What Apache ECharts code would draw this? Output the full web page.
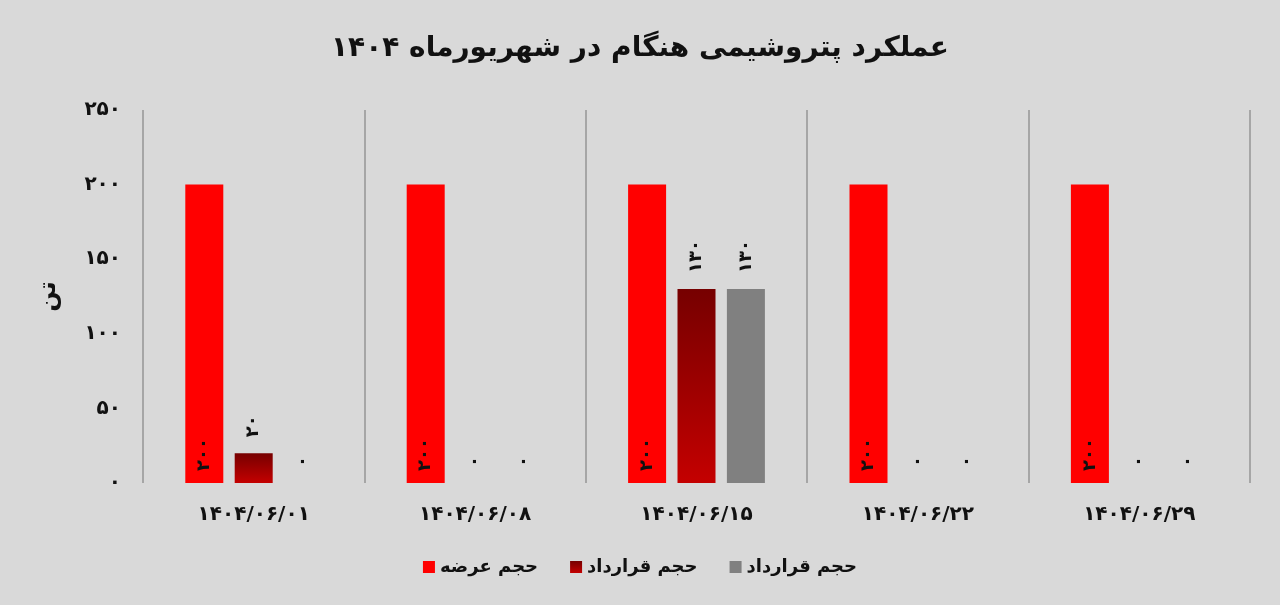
<!DOCTYPE html>
<html><head><meta charset="utf-8">
<script src="https://cdn.jsdelivr.net/npm/echarts@6/dist/echarts.min.js"></script>
<style>html,body{margin:0;padding:0;background:#d9d9d9;}#c{width:1280px;height:605px;}</style>
</head><body><div id="c"></div>
<script>
const categories = ['۱۴۰۴/۰۶/۰۱','۱۴۰۴/۰۶/۰۸','۱۴۰۴/۰۶/۱۵','۱۴۰۴/۰۶/۲۲','۱۴۰۴/۰۶/۲۹'];
const offerVolume = [200, 200, 200, 200, 200];
const contractVolume = [20, 0, 130, 0, 0];
const contractVolume2 = [0, 0, 130, 0, 0];
// the two contract series share the same visible name; a zero-width space keeps their legend entries apart
const seriesNames = ['حجم عرضه', 'حجم قرارداد', 'حجم قرارداد\u200B'];
const titleText = 'عملکرد پتروشیمی هنگام در شهریورماه ۱۴۰۴';
const yName = 'تن';

const fa = s => String(s).replace(/\d/g, d => '۰۱۲۳۴۵۶۷۸۹'[d]);
const FONT = 'DejaVu Sans';
const chart = echarts.init(document.getElementById('c'));
const topLabel = {
  show: true, position: 'top', rotate: 90, align: 'left', verticalAlign: 'middle',
  distance: 16, color: '#111', fontFamily: FONT, fontWeight: 'bold', fontSize: 18,
  formatter: p => fa(p.value)
};
chart.setOption({
  backgroundColor: '#d9d9d9',
  title: { text: titleText, left: 'center', top: 30,
    textStyle: { fontFamily: FONT, fontWeight: 'bold', fontSize: 28, color: '#111' } },
  legend: { bottom: 24, left: 'center', itemWidth: 12, itemHeight: 12, itemGap: 32,
    icon: 'rect',
    textStyle: { fontFamily: FONT, fontWeight: 'bold', fontSize: 18, color: '#111' } },
  grid: { left: 143, right: 30, top: 110, bottom: 122 },
  xAxis: {
    type: 'category', data: categories,
    axisLine: { show: false }, axisTick: { show: false },
    splitLine: { show: true, lineStyle: { color: '#a6a6a6', width: 2 } },
    axisLabel: { fontFamily: FONT, fontWeight: 'bold', fontSize: 20, color: '#111', margin: 22 }
  },
  yAxis: {
    type: 'value', min: 0, max: 250, interval: 50,
    name: yName, nameLocation: 'middle', nameRotate: 90, nameGap: 82,
    nameTextStyle: { fontFamily: FONT, fontWeight: 'bold', fontSize: 24, color: '#111' },
    axisLine: { show: false }, axisTick: { show: false }, splitLine: { show: false },
    axisLabel: { fontFamily: FONT, fontWeight: 'bold', fontSize: 20, color: '#111', margin: 22,
      formatter: v => fa(v) }
  },
  series: [
    { name: seriesNames[0], type: 'bar', data: offerVolume, barWidth: 38, barGap: '30%',
      itemStyle: { color: '#ff0000' },
      label: { show: true, position: 'insideBottom', rotate: 90, align: 'left', verticalAlign: 'middle',
        distance: 12, color: '#111', fontFamily: FONT, fontWeight: 'bold', fontSize: 18,
        formatter: p => fa(p.value) } },
    { name: seriesNames[1], type: 'bar', data: contractVolume, barWidth: 38, barGap: '30%',
      itemStyle: { color: new echarts.graphic.LinearGradient(0, 0, 0, 1, [
        { offset: 0, color: '#760000' }, { offset: 1, color: '#c40000' }]) },
      label: topLabel },
    { name: seriesNames[2], type: 'bar', data: contractVolume2, barWidth: 38, barGap: '30%',
      itemStyle: { color: '#808080' },
      label: topLabel }
  ]
});
</script></body></html>
